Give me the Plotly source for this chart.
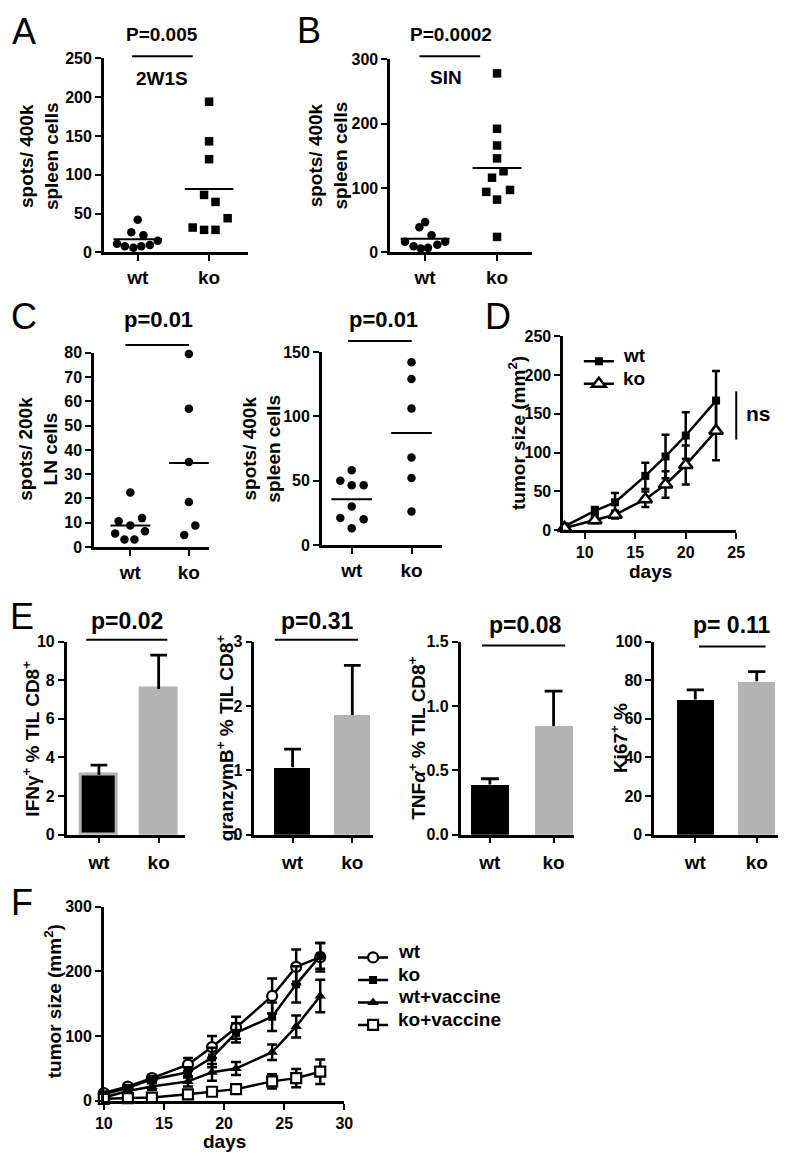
import plotly.graph_objects as go

W, H = 799, 1163
FONT = "Liberation Sans, Arial, sans-serif"
GRAY = "#b3b3b3"

# ---------------- data ----------------
groups = ["wt", "ko"]

# A: 2W1S
A_wt = [42, 26, 22, 15, 11, 8, 6, 8, 9.5]
A_ko = [194, 143, 120, 74, 65, 44, 32, 29, 29]
A_means = [17, 81.5]
# B: SIN
B_wt = [47, 39, 26.5, 16.5, 16.5, 12, 9.5, 6, 7]
B_ko = [278, 192, 166, 146, 126, 116, 94, 97, 82, 24]
B_means = [21, 131]
# C left: LN cells
C1_wt = [22.5, 10.6, 11.9, 8.9, 5.6, 6.5, 3.1, 3.1]
C1_ko = [79.5, 57, 35, 18.5, 8.9, 4.9]
C1_means = [8.9, 34.6]
# C right: spleen cells
C2_wt = [58, 50, 46.5, 46.5, 30, 21, 20, 13]
C2_ko = [142, 129, 106, 68, 52, 26]
C2_means = [35.5, 87]
# D: tumor growth
D_days = [8, 11, 13, 16, 18, 20, 23]
D_wt = [5, 25, 36, 70, 95, 122, 167]
D_wt_err = [3, 5, 12, 17, 28, 30, 38]
D_ko = [3, 13, 20, 40, 59, 84, 128]
D_ko_err = [2, 4, 5, 10, 17, 25, 38]
D_names = ["wt", "ko"]
# E: bars (mean, sem)
E1_mean = [3.1, 7.55];  E1_sem = [0.5, 1.75]
E2_mean = [1.05, 1.86]; E2_sem = [0.28, 0.77]
E3_mean = [0.39, 0.845]; E3_sem = [0.045, 0.27]
E4_mean = [70, 79.5];   E4_sem = [5, 5]
# F: tumor growth with vaccine
F_days = [10, 12, 14, 17, 19, 21, 24, 26, 28]
F_wt = [12, 22, 35, 56, 83, 113, 162, 207, 222]
F_wt_err = [4, 4, 5, 10, 17, 17, 27, 27, 22]
F_ko = [10, 20, 33, 44, 67, 105, 130, 180, 224]
F_ko_err = [3, 4, 5, 8, 15, 15, 22, 28, 20]
F_wtv = [5, 15, 22, 30, 44, 50, 75, 115, 162]
F_wtv_err = [3, 4, 5, 8, 13, 10, 12, 17, 25]
F_kov = [3, 4, 5, 10, 14, 18, 30, 35, 45]
F_kov_err = [2, 2, 2, 4, 4, 4, 11, 14, 19]
F_names = ["wt", "ko", "wt+vaccine", "ko+vaccine"]

# ---------------- layout constants (scatter spread offsets) ----------------
A_wt_dx = [0, -0.09, 0.08, 0.28, -0.29, -0.18, -0.06, 0.05, 0.17]
A_ko_dx = [0, 0, 0, -0.07, 0.09, 0.26, -0.23, -0.07, 0.09]
B_wt_dx = [0, -0.08, 0.09, -0.28, 0.28, 0.17, -0.16, -0.06, 0.04]
B_ko_dx = [0, 0, 0, 0, 0.09, -0.07, -0.15, 0.18, 0, 0]
C1_wt_dx = [0, -0.2, 0.2, 0, -0.26, 0.25, -0.1, 0.07]
C1_ko_dx = [0, 0, 0, 0, 0.11, -0.08]
C2_wt_dx = [0, -0.19, 0, 0.2, 0, -0.19, 0.2, 0]
C2_ko_dx = [0, 0, 0, 0, 0, 0]

fig = go.Figure()


def xd(l, r):
    return [l / W, r / W]


def yd(b, t):
    return [1 - b / H, 1 - t / H]


def btext(vals, fmt=None):
    return [f"<b>{format(v, fmt) if fmt else v}</b>" for v in vals]


def axstyle(size=16):
    return dict(showline=True, linecolor="black", linewidth=2.5, ticks="outside",
                ticklen=6, tickwidth=2.2, tickcolor="black", showgrid=False,
                zeroline=False, fixedrange=True,
                tickfont=dict(family=FONT, size=size, color="black", weight="bold"))


def ann(x, y, text, size, bold=True, angle=0, xanchor="center"):
    fig.add_annotation(x=x / W, y=1 - y / H, xref="paper", yref="paper", text=text,
                       showarrow=False, textangle=angle, xanchor=xanchor, yanchor="middle",
                       font=dict(family=FONT, size=size, color="black",
                                 weight="bold" if bold else "normal"))


def hline(x0, x1, y, w=2):
    fig.add_shape(type="line", xref="paper", yref="paper", x0=x0 / W, x1=x1 / W,
                  y0=1 - y / H, y1=1 - y / H, line=dict(color="black", width=w))


def vline(x, y0, y1, w=2):
    fig.add_shape(type="line", xref="paper", yref="paper", x0=x / W, x1=x / W,
                  y0=1 - y0 / H, y1=1 - y1 / H, line=dict(color="black", width=w))


def dotpanel(n, wt, ko, wdx, kdx, means, sym_wt, sym_ko, xdom, ydom, xr, yr, ytick, standoff=0):
    xa = "x" if n == 1 else f"x{n}"
    ya = "y" if n == 1 else f"y{n}"
    fig.add_trace(go.Scatter(x=[0 + d for d in wdx], y=wt, mode="markers", xaxis=xa, yaxis=ya,
                             marker=dict(symbol=sym_wt, size=8.5, color="black"),
                             showlegend=False, cliponaxis=False))
    fig.add_trace(go.Scatter(x=[1 + d for d in kdx], y=ko, mode="markers", xaxis=xa, yaxis=ya,
                             marker=dict(symbol=sym_ko, size=8.5, color="black"),
                             showlegend=False, cliponaxis=False))
    for i, m in enumerate(means):
        fig.add_trace(go.Scatter(x=[i - 0.34, i + 0.34], y=[m, m], mode="lines",
                                 xaxis=xa, yaxis=ya, line=dict(color="black", width=2),
                                 showlegend=False, cliponaxis=False))
    k = "" if n == 1 else str(n)
    xs = axstyle(19)
    xs.update(domain=xdom, range=xr, tickvals=[0, 1], ticktext=btext(groups), anchor=ya,
              ticklabelstandoff=standoff)
    ys = axstyle(16)
    ys.update(domain=ydom, range=yr, tickvals=ytick, ticktext=btext(ytick), anchor=xa)
    fig.layout["xaxis" + k] = xs
    fig.layout["yaxis" + k] = ys


# A
dotpanel(1, A_wt, A_ko, A_wt_dx, A_ko_dx, A_means, "circle", "square",
         xd(97, 245), yd(248, 51), [-0.475, 1.552], [0, 250], [0, 50, 100, 150, 200, 250])
# B
dotpanel(2, B_wt, B_ko, B_wt_dx, B_ko_dx, B_means, "circle", "square",
         xd(390, 535), yd(248, 52), [-0.485, 1.485], [0, 300], [0, 100, 200, 300])
# C left
dotpanel(3, C1_wt, C1_ko, C1_wt_dx, C1_ko_dx, C1_means, "circle", "circle",
         xd(87, 205), yd(547, 350), [-0.62, 1.35], [0, 80], list(range(0, 81, 10)))
# C right
dotpanel(4, C2_wt, C2_ko, C2_wt_dx, C2_ko_dx, C2_means, "circle", "circle",
         xd(320, 443), yd(545, 349), [-0.5, 1.51], [0, 150], [0, 50, 100, 150])

# D
D_marks = [dict(symbol="square", size=8, color="black"),
           dict(symbol="triangle-up", size=12, color="white", line=dict(color="black", width=2.5))]
for nm, vals, err, mk in zip(D_names, [D_wt, D_ko], [D_wt_err, D_ko_err], D_marks):
    fig.add_trace(go.Scatter(x=D_days, y=vals, mode="lines+markers", name="\u200b", xaxis="x5", yaxis="y5",
                             line=dict(color="black", width=2.5), marker=mk, hovertext=nm,
                             error_y=dict(type="data", array=err, color="black", thickness=2.5, width=4),
                             cliponaxis=False, legend="legend"))
xs = axstyle(16); xs.update(domain=xd(567, 744), range=[7.87, 25], tickvals=[10, 15, 20, 25],
                            ticktext=btext([10, 15, 20, 25]), anchor="y5")
ys = axstyle(16); ys.update(domain=yd(530, 333), range=[0, 250], tickvals=[0, 50, 100, 150, 200, 250],
                            ticktext=btext([0, 50, 100, 150, 200, 250]), anchor="x5")
fig.layout["xaxis5"] = xs
fig.layout["yaxis5"] = ys


# E bars
def barpanel(n, mean, sem, xdom, xr, yr, ytick, fmt=None, outline=False):
    xa, ya = f"x{n}", f"y{n}"
    fig.add_trace(go.Bar(x=[0, 1], y=mean, width=0.6, xaxis=xa, yaxis=ya,
                         marker=dict(color=["black", GRAY],
                                     line=dict(color=GRAY, width=3 if outline else 0)),
                         showlegend=False))
    ex, ey = [], []
    for i, (m, s) in enumerate(zip(mean, sem)):
        ex += [i, i, None, i - 0.14, i + 0.14, None]
        ey += [m, m + s, None, m + s, m + s, None]
    fig.add_trace(go.Scatter(x=ex, y=ey, mode="lines", xaxis=xa, yaxis=ya,
                             line=dict(color="black", width=2.8), showlegend=False,
                             cliponaxis=False))
    xs = axstyle(19)
    xs.update(domain=xdom, range=xr, tickvals=[0, 1], ticktext=btext(groups), anchor=ya,
              ticklabelstandoff=3)
    ys = axstyle(16)
    ys.update(domain=yd(839, 643), range=yr, tickvals=ytick, ticktext=btext(ytick, fmt), anchor=xa)
    fig.layout[f"xaxis{n}"] = xs
    fig.layout[f"yaxis{n}"] = ys


barpanel(6, E1_mean, E1_sem, xd(59, 180), [-0.54, 1.44], [0, 10], [0, 2, 4, 6, 8, 10], outline=True)
barpanel(7, E2_mean, E2_sem, xd(251, 372), [-0.64, 1.34], [0, 3], [0, 1, 2, 3])
barpanel(8, E3_mean, E3_sem, xd(462, 578), [-0.46, 1.32], [0, 1.5], [0, 0.5, 1.0, 1.5], fmt=".1f")
barpanel(9, E4_mean, E4_sem, xd(660, 787), [-0.67, 1.35], [0, 100], [0, 20, 40, 60, 80, 100])

# F
F_marks = [dict(symbol="circle", size=10, color="white", line=dict(color="black", width=2.2)),
           dict(symbol="square", size=8, color="black"),
           dict(symbol="triangle-up", size=10, color="black"),
           dict(symbol="square", size=10, color="white", line=dict(color="black", width=2.2))]
for nm, vals, err, mk in zip(F_names, [F_wt, F_ko, F_wtv, F_kov],
                             [F_wt_err, F_ko_err, F_wtv_err, F_kov_err], F_marks):
    fig.add_trace(go.Scatter(x=F_days, y=vals, mode="lines+markers", name="\u200b", xaxis="x10", yaxis="y10",
                             line=dict(color="black", width=2.5), marker=mk, hovertext=nm,
                             error_y=dict(type="data", array=err, color="black", thickness=2.5, width=5),
                             cliponaxis=False, legend="legend2"))
xs = axstyle(16); xs.update(domain=xd(97, 343), range=[10, 30], tickvals=[10, 15, 20, 25, 30],
                            ticktext=btext([10, 15, 20, 25, 30]), anchor="y10")
ys = axstyle(16); ys.update(domain=yd(1109, 912), range=[0, 300], tickvals=[0, 100, 200, 300],
                            ticktext=btext([0, 100, 200, 300]), anchor="x10")
fig.layout["xaxis10"] = xs
fig.layout["yaxis10"] = ys

# ---------------- annotations ----------------
# panel letters
for L, x, y in [("A", 15, 24), ("B", 307, 23), ("C", 15, 313), ("D", 500, 313), ("E", 13, 618), ("F", 13, 908)]:
    ann(x, y, L, 36, bold=False)

# y titles
ann(31, 150, "spots/ 400k<br>spleen cells", 19, angle=-90)
ann(326, 150, "spots/ 400k<br>spleen cells", 19, angle=-90)
ann(30, 447, "spots/ 200k<br>LN cells", 19, angle=-90)
ann(259, 447, "spots/ 400k<br>spleen cells", 19, angle=-90)
ann(519, 431, "tumor size (mm<sup>2</sup>)", 19, angle=-90)
ann(23, 741, "IFNγ<sup>+</sup> % TIL CD8<sup>+</sup>", 19, angle=-90)
ann(221, 741, "granzymB<sup>+</sup> % TIL CD8<sup>+</sup>", 19, angle=-90)
ann(418, 741, "TNF<i>α</i><sup>+</sup> % TIL CD8<sup>+</sup>", 19, angle=-90)
ann(624, 741, "Ki67<sup>+</sup> %", 19, angle=-90)
ann(45, 1008, "tumor size (mm<sup>2</sup>)", 19, angle=-90)

# x titles
ann(656, 572, "days", 19)
ann(220, 1150, "days", 19)

# p-values and bars
ann(157, 27, "P=0.005", 19); hline(126, 188, 49)
ann(157, 72, "2W1S", 19)
ann(452, 27, "P=0.0002", 19); hline(420, 482, 49)
ann(447, 71, "SIN", 19)
ann(153, 316, "p=0.01", 22); hline(119, 184, 342)
ann(383, 316, "p=0.01", 22); hline(347, 412, 338)
ann(121, 622, "p=0.02", 23); hline(79, 162, 641)
ann(315, 622, "p=0.31", 23); hline(272, 357, 641)
ann(528, 626, "p=0.08", 23); hline(484, 569, 647)
ann(740, 626, "p= 0.11", 23); hline(706, 774, 648)

# ns
vline(744, 389, 438, w=2)
ann(752, 412, "ns", 21, xanchor="left")

# legend labels (text next to the legend symbols)
for i, nm in enumerate(D_names):
    ann(626, 353 + 23 * i, nm, 19, xanchor="left")
for i, nm in enumerate(F_names):
    ann(396, 958 + 22.7 * i, nm, 19, xanchor="left")

fig.update_layout(
    width=W, height=H, margin=dict(l=0, r=0, t=0, b=0),
    paper_bgcolor="white", plot_bgcolor="white", bargap=0,
    font=dict(family=FONT, color="black"),
    legend=dict(x=583 / W, y=1 - 342 / H, xanchor="left", yanchor="top", bgcolor="rgba(0,0,0,0)",
                font=dict(family=FONT, size=15, color="black"),
                tracegroupgap=0, itemwidth=30),
    legend2=dict(x=352 / W, y=1 - 947 / H, xanchor="left", yanchor="top", bgcolor="rgba(0,0,0,0)",
                 font=dict(family=FONT, size=15, color="black"),
                 tracegroupgap=0, itemwidth=30),
)

fig.write_html(
    "out.html",
    config={"displayModeBar": False},
    post_script=("document.body.style.margin='0px';document.body.style.padding='0px';"
                 "document.documentElement.style.overflow='hidden';"
                 "document.body.style.overflow='hidden';"
                 "var d=document.getElementsByClassName('plotly-graph-div')[0];"
                 "d.style.position='absolute';d.style.left='0px';d.style.top='0px';"),
)
